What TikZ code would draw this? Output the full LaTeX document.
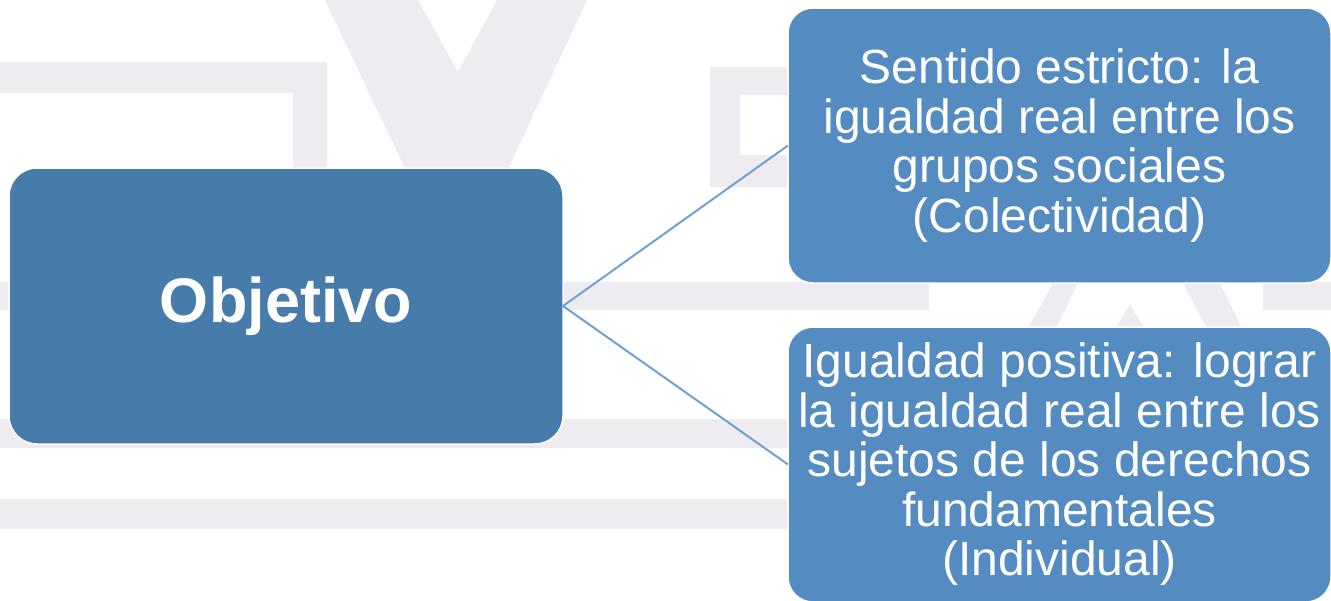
\documentclass[tikz,border=0pt]{standalone}
\usepackage{fontspec}
\setmainfont{Liberation Sans}
\definecolor{wm}{HTML}{EFECF1}
\definecolor{leftblue}{HTML}{477CAA}
\definecolor{rightblue}{HTML}{548CC2}
\definecolor{connblue}{HTML}{6FA0D6}
\tikzset{
  mainbox/.style={rectangle, rounded corners=28pt, fill=leftblue, draw=white, line width=1.5pt,
    minimum width=554pt, minimum height=276pt, outer sep=0pt, inner sep=0pt, text=white,
    font=\fontsize{63}{70}\selectfont\bfseries},
  subbox/.style={rectangle, rounded corners=25pt, fill=rightblue, draw=white, line width=1.5pt,
    minimum width=543pt, minimum height=275pt, outer sep=0pt, inner sep=0pt, text=white,
    align=center, font=\fontsize{48}{49.5}\selectfont},
  conn/.style={draw=connblue, line width=2pt},
  wmark/.style={fill=wm, draw=none}
}
\begin{document}
\begin{tikzpicture}[x=1pt, y=-1pt]
\useasboundingbox (0,0) rectangle (1331,600);
\clip (0,0) rectangle (1331,600);
\fill[white] (0,0) rectangle (1331,600);
% watermark
\path[wmark] (0,62) rectangle (327,93);
\path[wmark] (293,62) rectangle (327,200);
\path[wmark] (325,0) -- (418,0) -- (458,72) -- (497,0) -- (587,0) -- (457,278) -- cycle;
\path[wmark, even odd rule] (710,67) rectangle (800,187) (740,95) rectangle (800,155);
\path[wmark] (0,282) rectangle (929,310);
\path[wmark] (1263,282) rectangle (1331,310);
\path[wmark] (1053,283) -- (1078,283) -- (1056,328) -- (1028,328) -- cycle;
\path[wmark] (1130,304) -- (1144,328) -- (1116,328) -- cycle;
\path[wmark] (1183,283) -- (1220,283) -- (1242,328) -- (1207,328) -- cycle;
\path[wmark] (0,419) rectangle (800,448);
\path[wmark] (0,499) rectangle (800,529);
% nodes
\node[mainbox] (obj) at (286,306) {Objetivo};
\node[subbox] (top) at (1059.5,145.5) {Sentido estricto: la\\igualdad real entre los\\grupos sociales\\(Colectividad)};
\node[subbox] (bot) at (1059.5,464.5) {Igualdad positiva: lograr\\la igualdad real entre los\\sujetos de los derechos\\fundamentales\\(Individual)};
% connectors
\draw[conn] (obj.east) -- (top.west);
\draw[conn] (obj.east) -- (bot.west);
\end{tikzpicture}
\end{document}
